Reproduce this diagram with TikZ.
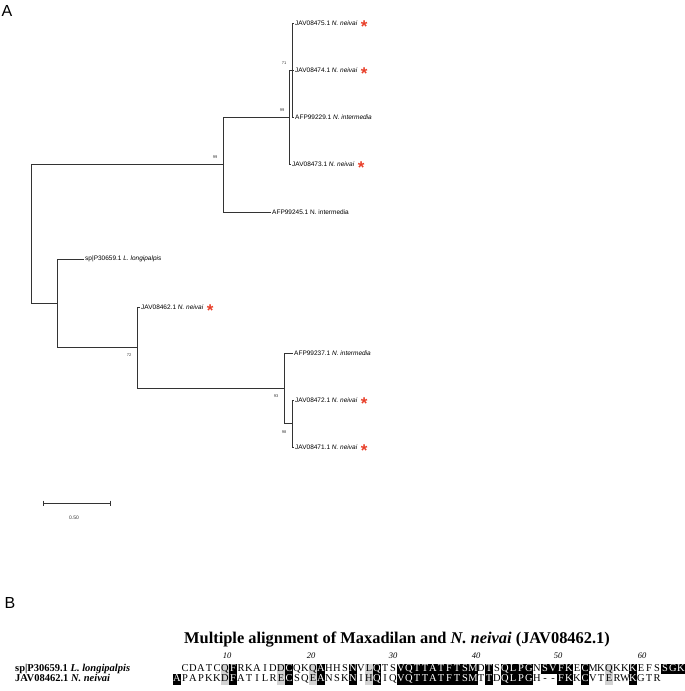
\documentclass[tikz,border=0pt]{standalone}
\usepackage{fontspec}
\setmainfont{Liberation Serif}
\newfontfamily\arialfont{Liberation Sans}
\usetikzlibrary{positioning}
\definecolor{starred}{RGB}{232,62,40}
\definecolor{shade}{RGB}{210,210,210}
\tikzset{
  branch/.style={line width=0.9pt, black!80},
  leaf/.style={anchor=west, inner sep=1pt, font=\arialfont\fontsize{6.5}{7}\selectfont},
  boot/.style={inner sep=0pt, black!80, font=\arialfont\fontsize{4}{4}\selectfont},
  redstar/.style={inner sep=0pt, text=starred, font=\arialfont\bfseries\fontsize{17}{17}\selectfont},
  panel/.style={inner sep=0pt, font=\arialfont\fontsize{16}{16}\selectfont},
  cell/.style={minimum width=8pt, inner sep=0pt, text height=7.5pt, text depth=3pt, font=\fontsize{10.5}{10.5}\selectfont},
  cw/.style={cell},
  cg/.style={cell, fill=shade},
  cb/.style={cell, fill=black, text=white},
  seqname/.style={anchor=west, inner sep=0pt, text height=7.5pt, text depth=3pt, font=\bfseries\fontsize{10.5}{10.5}\selectfont},
  num/.style={inner sep=0pt, font=\itshape\fontsize{8.5}{8.5}\selectfont}
}

\begin{document}
\begin{tikzpicture}[x=1pt, y=-1pt]
\useasboundingbox (0,0) rectangle (685,691);

\node[panel] (pA) at (7,11) {A};
\node[panel] (pB) at (10,603) {B};

% tree
\coordinate (r) at (31,233.5);
\coordinate (n1) at (223,164.5);
\coordinate (n2) at (289,117);
\coordinate (n3) at (292,70);
\coordinate (n4) at (57,303);
\coordinate (n5) at (137,347.5);
\coordinate (n6) at (284,388.5);
\coordinate (n7) at (292,423.5);

\node[leaf] (l475) at (294,23) {JAV08475.1 \textit{N. neivai}};
\node[leaf] (l474) at (294,70) {JAV08474.1 \textit{N. neivai}};
\node[leaf] (l229) at (294,117) {AFP99229.1 \textit{N. intermedia}};
\node[leaf] (l473) at (291,164) {JAV08473.1 \textit{N. neivai}};
\node[leaf] (l245) at (271,212) {AFP99245.1 N. intermedia};
\node[leaf] (l659) at (84,259) {sp|P30659.1 \textit{L. longipalpis}};
\node[leaf] (l462) at (140,307) {JAV08462.1 \textit{N. neivai}};
\node[leaf] (l237) at (293,353) {AFP99237.1 \textit{N. intermedia}};
\node[leaf] (l472) at (294,400) {JAV08472.1 \textit{N. neivai}};
\node[leaf] (l471) at (294,447) {JAV08471.1 \textit{N. neivai}};

\draw[branch] (r) |- (n1);
\draw[branch] (r) |- (n4);
\draw[branch] (n1) |- (n2);
\draw[branch] (n1) |- (l245.west);
\draw[branch] (n2) |- (n3);
\draw[branch] (n2) |- (l473.west);
\draw[branch] (n3) |- (l475.west);
\draw[branch] (n3) |- (l474.west);
\draw[branch] (n3) |- (l229.west);
\draw[branch] (n4) |- (l659.west);
\draw[branch] (n4) |- (n5);
\draw[branch] (n5) |- (l462.west);
\draw[branch] (n5) |- (n6);
\draw[branch] (n6) |- (l237.west);
\draw[branch] (n6) |- (n7);
\draw[branch] (n7) |- (l472.west);
\draw[branch] (n7) |- (l471.west);

\node[boot] (b1) at (215,157) {99};
\node[boot] (b2) at (282,110) {99};
\node[boot] (b3) at (284,63) {71};
\node[boot] (b4) at (129,355) {72};
\node[boot] (b5) at (276,396) {93};
\node[boot] (b6) at (284,432) {98};

\foreach \l in {l475,l474,l473,l462,l472,l471}
  \node[redstar, right=2pt of \l, yshift=-3.5pt] (s\l) {*};

% scale bar
\coordinate (sb1) at (43,503);
\coordinate (sb2) at (110,503);
\draw[branch] (sb1) -- (sb2);
\draw[branch] ([yshift=2.5pt]sb1) -- ([yshift=-2.5pt]sb1);
\draw[branch] ([yshift=2.5pt]sb2) -- ([yshift=-2.5pt]sb2);
\node[boot, font=\arialfont\fontsize{5}{5}\selectfont] (sbl) at (74,518) {0.50};

% alignment
\node[font=\bfseries\fontsize{16.4}{17}\selectfont, inner sep=0pt] (title) at (397,640)
  {Multiple alignment of Maxadilan and \textit{N. neivai} (JAV08462.1)};
\node[seqname] (na) at (15,669) {sp|P30659.1 \textit{L. longipalpis}};
\node[seqname] (nb) at (15,679.5) {JAV08462.1 \textit{N. neivai}};

\foreach \n/\x in {10/227,20/311,30/393,40/476,50/558,60/642}
  \node[num] (p\n) at (\x,656) {\n};

\foreach \c/\s [count=\i] in {{}/w,C/w,D/w,A/w,T/w,C/w,Q/g,F/b,R/w,K/w,A/w,I/w,D/w,D/g,C/b,Q/w,
  K/w,Q/g,A/b,H/w,H/w,S/w,N/b,V/w,L/g,Q/b,T/w,S/w,V/b,Q/b,T/b,T/b,A/b,T/b,F/b,T/b,
  S/b,M/b,D/w,T/b,S/w,Q/b,L/b,P/b,G/b,N/w,S/b,V/b,F/b,K/b,E/w,C/b,M/w,K/w,Q/g,K/w,
  K/w,K/b,E/w,F/w,S/w,S/b,G/b,K/b}
  \node[c\s] (a\i) at (169+8*\i,669) {\c};

\foreach \c/\s [count=\i] in {A/b,P/w,A/w,P/w,K/w,K/w,D/g,F/b,A/w,T/w,I/w,L/w,R/w,E/g,C/b,S/w,
  Q/w,E/g,A/b,N/w,S/w,K/w,N/b,I/w,H/g,Q/b,I/w,Q/w,V/b,Q/b,T/b,T/b,A/b,T/b,F/b,T/b,
  S/b,M/b,T/w,T/b,D/w,Q/b,L/b,P/b,G/b,H/w,-/w,-/w,F/b,K/b,K/w,C/b,V/w,T/w,E/g,R/w,
  W/w,K/b,G/w,T/w,R/w}
  \node[c\s] (b\i) at (169+8*\i,679.5) {\c};
\end{tikzpicture}
\end{document}
